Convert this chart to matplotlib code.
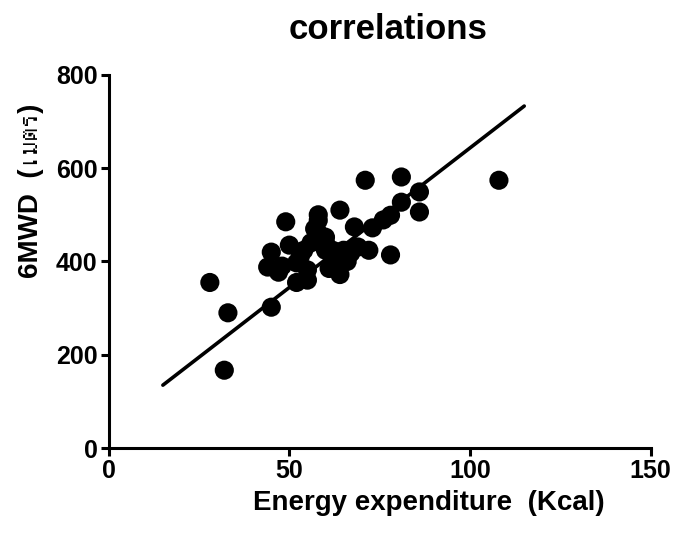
import matplotlib
matplotlib.use("Agg")
import matplotlib.pyplot as plt
from matplotlib import font_manager
from matplotlib.ft2font import FT2Font

# look for an installed face that has Thai letters for the y label
thai_family = None
for path in font_manager.findSystemFonts():
    try:
        if 0x0E21 in FT2Font(path).get_charmap():
            thai_family = font_manager.FontProperties(fname=path).get_name()
            break
    except Exception:
        pass

families = ["Liberation Sans", "DejaVu Sans"]
if thai_family:
    families.append(thai_family)
plt.rcParams["font.family"] = families
plt.rcParams["font.weight"] = "bold"

# energy expenditure (Kcal) vs 6MWD (m)
ENERGY = [28, 33, 32, 45, 45, 44, 47, 49, 50, 52, 52, 55, 55, 54, 56,
          58, 58, 58, 60, 60, 61, 62, 64, 64, 65, 67, 68, 69, 71, 72,
          73, 76, 78, 78, 81, 81, 86, 86, 108, 57, 60, 53, 63, 66, 48]
WALK = [355, 290, 167, 302, 420, 388, 377, 485, 435, 397, 355, 382, 360, 424, 440,
        500, 488, 461, 452, 424, 385, 424, 510, 372, 424, 418, 474, 431, 574, 424,
        472, 489, 499, 414, 581, 527, 549, 506, 574, 470, 440, 410, 400, 400, 390]

# regression line end points
FIT_X = [15, 115]
FIT_Y = [135, 733]

X_TICKS = [0, 50, 100, 150]
Y_TICKS = [0, 200, 400, 600, 800]

fig = plt.figure(figsize=(6.75, 5.38), dpi=100)
ax = fig.add_axes([0.161, 0.167, 0.803, 0.694])

ax.plot(FIT_X, FIT_Y, color="black", lw=2.6, solid_capstyle="round", zorder=2)
ax.scatter(ENERGY, WALK, s=190, color="black", edgecolors="none", zorder=3)

ax.set_xlim(0, 150)
ax.set_ylim(0, 800)
ax.set_xticks(X_TICKS)
ax.set_yticks(Y_TICKS)
for s in ["top", "right"]:
    ax.spines[s].set_visible(False)
for s in ["left", "bottom"]:
    ax.spines[s].set_linewidth(2.2)
ax.tick_params(width=2.2, length=6, labelsize=18, pad=2)
for lab in ax.get_xticklabels() + ax.get_yticklabels():
    lab.set_fontweight("bold")

ax.set_xlabel("Energy expenditure  (Kcal)", fontsize=20, fontweight="bold")
ax.xaxis.set_label_coords(0.59, -0.112)
ax.set_ylabel("6MWD  (เมตร)", fontsize=20, fontweight="bold")
ax.yaxis.set_label_coords(-0.12, 0.69)
ax.set_title("correlations", fontsize=25, fontweight="bold", pad=26, x=0.515)

fig.savefig("out.png", dpi=100)
